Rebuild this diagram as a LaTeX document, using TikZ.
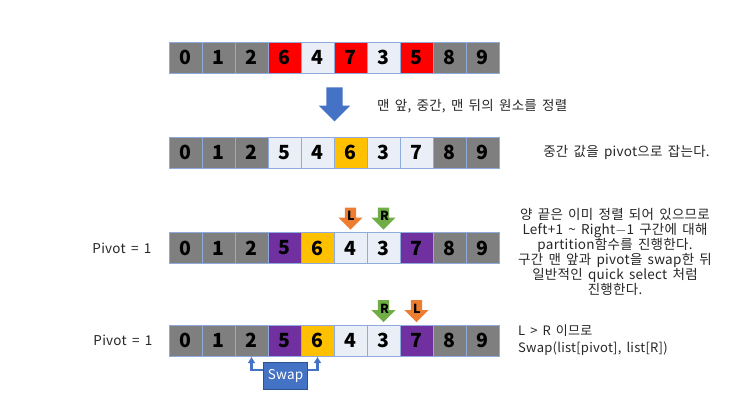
\documentclass[tikz,border=0pt]{standalone}
\usepackage{fontspec}
\setmainfont{Noto Sans CJK KR}
\newfontfamily\notefont{Noto Sans CJK KR}[WordSpace=1.6, LetterSpace=2]
\usetikzlibrary{positioning, shapes.arrows, arrows.meta, calc}

\definecolor{cellgray}{HTML}{7F7F7F}
\definecolor{cellred}{HTML}{FF0000}
\definecolor{celllight}{HTML}{E9EEF7}
\definecolor{cellgold}{HTML}{FFC000}
\definecolor{cellpurple}{HTML}{7030A0}
\definecolor{cellline}{HTML}{8FAADC}
\definecolor{ptrorange}{HTML}{ED7D31}
\definecolor{ptrgreen}{HTML}{70AD47}
\definecolor{flowblue}{HTML}{4472C4}
\definecolor{flowdark}{HTML}{2F528F}
\definecolor{notetext}{HTML}{262626}

\tikzset{
	cell/.style={draw=cellline, line width=1pt, minimum width=33pt, minimum height=31pt,
		inner sep=0pt, font=\bfseries\fontsize{19.5}{19.5}\selectfont},
	pointer/.style={single arrow, shape border rotate=270, single arrow head extend=6.5pt,
		minimum height=22pt, text width=7pt, align=center, inner sep=2pt,
		font=\bfseries\fontsize{12.5}{12.5}\selectfont},
	bigarrow/.style={single arrow, shape border rotate=270, fill=flowblue, draw=none,
		minimum height=34pt, inner sep=8pt, single arrow head extend=7.5pt},
	note/.style={text=notetext, font=\notefont\fontsize{13.5}{15}\selectfont, inner sep=0pt},
	swapbox/.style={fill=flowblue, draw=flowdark, line width=0.8pt, text=white,
		minimum width=44pt, minimum height=27pt, font=\notefont\fontsize{13.5}{13.5}\selectfont},
	swaparrow/.style={draw=flowblue, line width=2.2pt, -{Latex[length=6.5pt,width=8pt]}}
}

\begin{document}
\begin{tikzpicture}[x=1pt,y=-1pt]
		\useasboundingbox (0,0) rectangle (743,418);
		
		%Rows of cells
		\foreach \v/\c [count=\i from 0] in {0/cellgray,1/cellgray,2/cellgray,6/cellred,4/celllight,7/cellred,3/celllight,5/cellred,8/cellgray,9/cellgray}
		\node[cell, fill=\c] (a_\i) at (185.5+33*\i, 57.5) {\v};
		\foreach \v/\c [count=\i from 0] in {0/cellgray,1/cellgray,2/cellgray,5/celllight,4/celllight,6/cellgold,3/celllight,7/celllight,8/cellgray,9/cellgray}
		\node[cell, fill=\c] (b_\i) at (185.5+33*\i, 152.7) {\v};
		\foreach \v/\c [count=\i from 0] in {0/cellgray,1/cellgray,2/cellgray,5/cellpurple,6/cellgold,4/celllight,3/celllight,7/cellpurple,8/cellgray,9/cellgray}
		\node[cell, fill=\c] (c_\i) at (185.5+33*\i, 248) {\v};
		\foreach \v/\c [count=\i from 0] in {0/cellgray,1/cellgray,2/cellgray,5/cellpurple,6/cellgold,4/celllight,3/celllight,7/cellpurple,8/cellgray,9/cellgray}
		\node[cell, fill=\c] (d_\i) at (185.5+33*\i, 340.5) {\v};
		
		%Step arrow
		\node[bigarrow, above=15pt of b_4.north east, anchor=tip] (down) {};
		\node[note, anchor=west] (t_sort) at (377,106) {맨 앞, 중간, 맨 뒤의 원소를 정렬};
		\node[note] (t_mid) at (626.5,152) {중간 값을 pivot으로 잡는다.};
		
		%Pointers
		\node[pointer, fill=ptrorange, above=2pt of c_5, anchor=tip] (l_3) {L};
		\node[pointer, fill=ptrgreen, above=2pt of c_6, anchor=tip] (r_3) {R};
		\node[pointer, fill=ptrgreen, above=2pt of d_6, anchor=tip] (r_4) {R};
		\node[pointer, fill=ptrorange, above=2pt of d_7, anchor=tip] (l_4) {L};
		
		%Labels
		\node[note, left=17pt of c_0] (piv_3) {Pivot = 1};
		\node[note, left=16pt of d_0] (piv_4) {Pivot = 1};
		\node[note, align=center] (t_part) at (615,252) {양 끝은 이미 정렬 되어 있으므로\\Left+1 \textasciitilde{} Right$-$1 구간에 대해\\partition함수를 진행한다.\\구간 맨 앞과 pivot을 swap한 뒤\\일반적인 quick select 처럼\\진행한다.};
		\node[note, align=left, anchor=west, font=\notefont\fontsize{13}{16.6}\selectfont] (t_swap) at (518,340) {L > R 이므로\\Swap(list[pivot], list[R])};
		
		%Swap
		\node[swapbox] (sw) at (285.5,376.3) {Swap};
		\draw[swaparrow] ([yshift=6pt]sw.west) -| (d_2.south);
		\draw[swaparrow] ([yshift=6pt]sw.east) -| (d_4.south);
		
\end{tikzpicture}
\end{document}
